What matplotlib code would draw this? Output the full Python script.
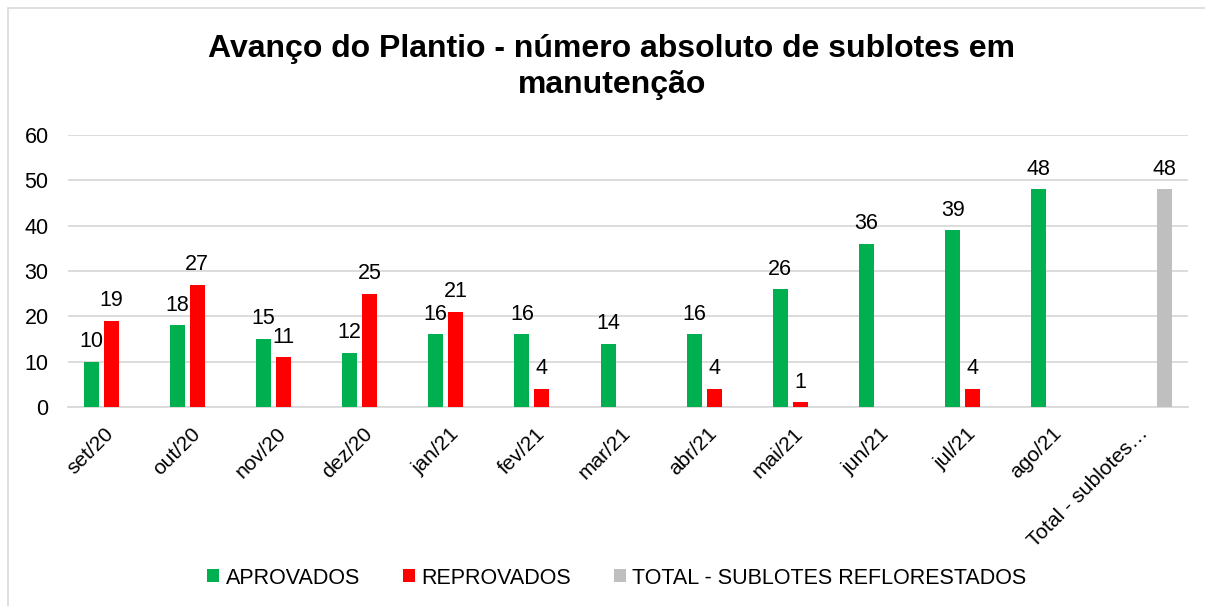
import numpy as np
import matplotlib
matplotlib.use("Agg")
import matplotlib.pyplot as plt
from matplotlib.patches import Rectangle

plt.rcParams['font.family'] = ['Liberation Sans', 'DejaVu Sans']

# months of planting follow-up plus the overall total
categories = ['set/20', 'out/20', 'nov/20', 'dez/20', 'jan/21', 'fev/21', 'mar/21',
              'abr/21', 'mai/21', 'jun/21', 'jul/21', 'ago/21', 'Total - sublotes…']
aprovados = [10, 18, 15, 12, 16, 16, 14, 16, 26, 36, 39, 48, np.nan]
reprovados = [19, 27, 11, 25, 21, 4, np.nan, 4, 1, np.nan, 4, np.nan, np.nan]
total_reflorestados = [np.nan] * 12 + [48]

series = [
    ('APROVADOS', aprovados, '#00B050', -1),
    ('REPROVADOS', reprovados, '#FF0000', 0),
    ('TOTAL - SUBLOTES REFLORESTADOS', total_reflorestados, '#BFBFBF', 1),
]

fig = plt.figure(figsize=(12.05, 6.06), dpi=100)
ax = fig.add_axes([68 / 1205, 1 - 407 / 606, 1120 / 1205, 272 / 606])

x = np.arange(len(categories))
step = 0.232
width = 0.174

for name, vals, color, k in series:
    vals = np.array(vals, dtype=float)
    ax.bar(x + k * step, vals, width, color=color, label=name, zorder=3)
    for xi, v in zip(x + k * step, vals):
        if np.isnan(v):
            continue
        ax.annotate(f'{v:.0f}', (xi, v), xytext=(0, 10.5), textcoords='offset points',
                    ha='center', va='baseline', fontsize=15.5, color='black')

ax.set_xlim(-0.5, len(categories) - 0.5)
ax.set_ylim(0, 60)
ax.set_yticks(range(0, 61, 10))
ax.yaxis.grid(True, color='#D9D9D9', linewidth=1.3, zorder=0)
ax.set_axisbelow(True)
for side in ['top', 'right', 'left']:
    ax.spines[side].set_visible(False)
ax.spines['bottom'].set_color('#D9D9D9')
ax.spines['bottom'].set_linewidth(1.3)

ax.set_xticks(x)
ax.set_xticklabels(categories, rotation=45, ha='right', va='center',
                   rotation_mode='anchor', fontsize=15)
ax.tick_params(axis='x', length=0, pad=17)
ax.tick_params(axis='y', length=0, pad=14, labelsize=15.5)

fig.text(612 / 1205, 1 - 67 / 606,
         'Avanço do Plantio - número absoluto de sublotes em\nmanutenção',
         ha='center', va='center', fontsize=23, fontweight='bold',
         linespacing=1.25, multialignment='center')

fig.legend(loc='center', bbox_to_anchor=(617 / 1205, 1 - 578 / 606), ncol=3,
           frameon=False, fontsize=15.5, handlelength=0.55, handleheight=0.55,
           handletextpad=0.3, columnspacing=2.0)

# chart area border
fig.patches.append(Rectangle((8 / 1205, -0.5), 2, 0.5 + 1 - 8 / 606,
                             transform=fig.transFigure, fill=False,
                             edgecolor='#D9D9D9', linewidth=1.2))

fig.savefig('out.png', dpi=100)
